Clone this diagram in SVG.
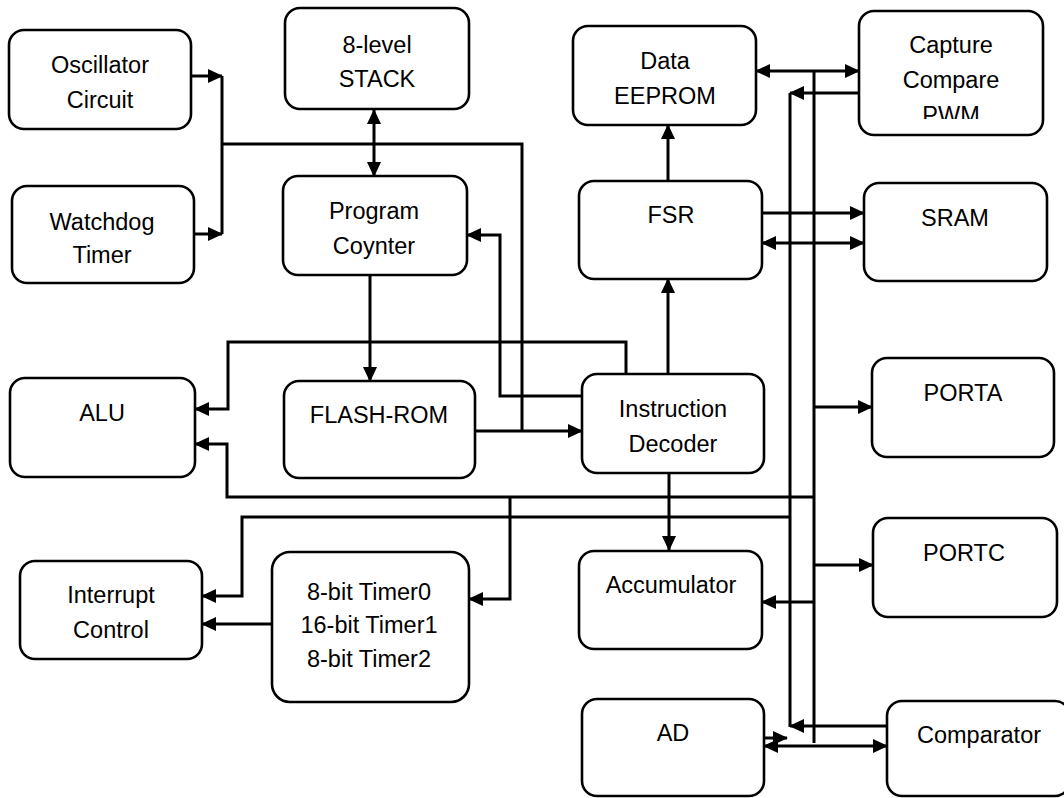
<svg xmlns="http://www.w3.org/2000/svg" width="1064" height="798" viewBox="0 0 1064 798">
<style>
.box{fill:#fff;stroke:#000;stroke-width:2.6}
.t{font-family:"Liberation Sans",Arial,sans-serif;font-size:23.5px;fill:#000;text-anchor:middle}
.c{fill:none;stroke:#000;stroke-width:3}
.a{marker-end:url(#ah)}
.d{marker-start:url(#ah);marker-end:url(#ah)}
</style>
<defs>
<marker id="ah" markerUnits="userSpaceOnUse" markerWidth="16" markerHeight="16" refX="14" refY="7" orient="auto-start-reverse"><path d="M0,0 L15,7 L0,14 z" fill="#000"/></marker>
<clipPath id="pwmclip"><rect x="860" y="0" width="200" height="119"/></clipPath>
</defs>
<rect width="1064" height="798" fill="#fff"/>
<g id="connectors">
<path class="c a" d="M191,76 H222"/>
<path class="c a" d="M194,234 H222"/>
<path class="c" d="M222,76 V234"/>
<path class="c" d="M222,144 H522 V431"/>
<path class="c d" d="M374,110 V176"/>
<path class="c a" d="M370,275 V381"/>
<path class="c a" d="M475,431 H582"/>
<path class="c a" d="M582,396 H500 V235 H467"/>
<path class="c a" d="M626,374 V342 H228 V409 H195"/>
<path class="c a" d="M668,374 V279"/>
<path class="c a" d="M668,181 V125"/>
<path class="c a" d="M762,213 H864"/>
<path class="c d" d="M762,243 H864"/>
<path class="c d" d="M756,71 H859"/>
<path class="c a" d="M859,93 H790"/>
<path class="c" d="M790,93 V727"/>
<path class="c" d="M814,71 V743"/>
<path class="c a" d="M814,407 H872"/>
<path class="c a" d="M814,565 H873"/>
<path class="c a" d="M814,602 H762"/>
<path class="c a" d="M669,473 V550"/>
<path class="c a" d="M814,497 H227 V444 H195"/>
<path class="c a" d="M510,497 V599 H469"/>
<path class="c a" d="M790,517 H242 V596 H202"/>
<path class="c a" d="M272,624 H202"/>
<path class="c a" d="M887,726 H790"/>
<path class="c d" d="M764,746 H887"/>
<path class="c a" d="M764,738 H787"/>
</g>
<g id="oscillator"><rect class="box" x="9" y="30" width="182" height="99" rx="15"/><text class="t" x="100" y="73">Oscillator</text><text class="t" x="100" y="108">Circuit</text></g>
<g id="watchdog"><rect class="box" x="12" y="186" width="182" height="97" rx="15"/><text class="t" x="102" y="230">Watchdog</text><text class="t" x="102" y="263">Timer</text></g>
<g id="stack"><rect class="box" x="285" y="8" width="184" height="101" rx="15"/><text class="t" x="377" y="53">8-level</text><text class="t" x="377" y="87">STACK</text></g>
<g id="pc"><rect class="box" x="283" y="176" width="184" height="99" rx="15"/><text class="t" x="374" y="219">Program</text><text class="t" x="374" y="254">Coynter</text></g>
<g id="eeprom"><rect class="box" x="573" y="26" width="183" height="99" rx="15"/><text class="t" x="665" y="69">Data</text><text class="t" x="665" y="104">EEPROM</text></g>
<g id="capture"><rect class="box" x="859" y="11" width="184" height="124" rx="15"/><text class="t" x="951" y="53">Capture</text><text class="t" x="951" y="88">Compare</text><text class="t" x="951" y="123" clip-path="url(#pwmclip)">PWM</text></g>
<g id="fsr"><rect class="box" x="579" y="181" width="183" height="98" rx="15"/><text class="t" x="671" y="223">FSR</text></g>
<g id="sram"><rect class="box" x="864" y="183" width="183" height="98" rx="15"/><text class="t" x="955" y="226">SRAM</text></g>
<g id="alu"><rect class="box" x="10" y="378" width="185" height="99" rx="15"/><text class="t" x="102" y="421">ALU</text></g>
<g id="flash"><rect class="box" x="284" y="381" width="191" height="97" rx="15"/><text class="t" x="379" y="423">FLASH-ROM</text></g>
<g id="decoder"><rect class="box" x="582" y="374" width="182" height="99" rx="15"/><text class="t" x="673" y="417">Instruction</text><text class="t" x="673" y="452">Decoder</text></g>
<g id="porta"><rect class="box" x="872" y="358" width="182" height="99" rx="15"/><text class="t" x="963" y="401">PORTA</text></g>
<g id="interrupt"><rect class="box" x="20" y="561" width="182" height="98" rx="15"/><text class="t" x="111" y="603">Interrupt</text><text class="t" x="111" y="638">Control</text></g>
<g id="timers"><rect class="box" x="272" y="552" width="197" height="150" rx="18"/><text class="t" x="369" y="600">8-bit Timer0</text><text class="t" x="369" y="633">16-bit Timer1</text><text class="t" x="369" y="667">8-bit Timer2</text></g>
<g id="accumulator"><rect class="box" x="579" y="551" width="183" height="98" rx="15"/><text class="t" x="671" y="593">Accumulator</text></g>
<g id="portc"><rect class="box" x="873" y="518" width="184" height="99" rx="15"/><text class="t" x="964" y="561">PORTC</text></g>
<g id="ad"><rect class="box" x="582" y="699" width="182" height="97" rx="15"/><text class="t" x="673" y="741">AD</text></g>
<g id="comparator"><rect class="box" x="887" y="701" width="183" height="95" rx="15"/><text class="t" x="979" y="743">Comparator</text></g>
</svg>
